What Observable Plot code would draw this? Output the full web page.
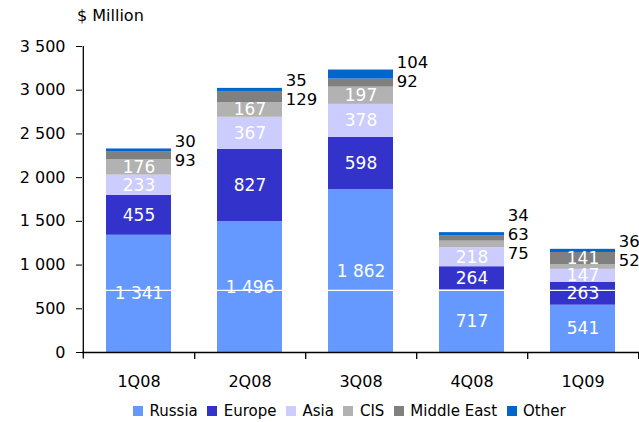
<!DOCTYPE html>
<html><head><meta charset="utf-8">
<script src="https://cdn.jsdelivr.net/npm/d3@7"></script>
<script src="https://cdn.jsdelivr.net/npm/@observablehq/plot@0.6"></script>
<style>
body{margin:0;background:#fff;font-family:"DejaVu Sans",sans-serif;color:#000;}
#title{height:28px;box-sizing:border-box;padding:7px 0 0 77px;font-size:16px;line-height:18px;}
#chart{height:370px;}
#legend{display:flex;align-items:center;padding-left:133px;margin-top:3px;font-size:15px;line-height:20px;}
.item{display:flex;align-items:center;margin-right:9.5px;}
.sw{width:10px;height:10px;margin-right:6.5px;}
</style></head><body>
<div id="title">$ Million</div>
<div id="chart"></div>
<div id="legend"></div>
<script>
const quarters = ["1Q08","2Q08","3Q08","4Q08","1Q09"];
const regions = ["Russia","Europe","Asia","CIS","Middle East","Other"];
const russia = [1341,1496,1862,717,541];
const europe = [455,827,598,264,263];
const asia = [233,367,378,218,147];
const cis = [176,167,197,75,52];
const middleEast = [93,129,92,63,141];
const other = [30,35,104,34,36];
const colors = ["#6699FF","#3333CC","#CCCCFF","#B2B2B2","#808080","#0066CC"];
const yTicks = [0,500,1000,1500,2000,2500,3000,3500];
const gridValue = 710;

const series = [russia, europe, asia, cis, middleEast, other];
const fmt = d => d3.format(",")(d).replace(/,/g, " ");

// stacked rows
const rows = [];
const totals = [];
quarters.forEach((q, qi) => {
  let cum = 0;
  regions.forEach((r, ri) => {
    const v = series[ri][qi];
    rows.push({quarter: q, region: r, value: v, y1: cum, y2: cum + v, mid: cum + v / 2,
               outside: v < 135 || r === "Other"});
    cum += v;
  });
  totals.push({quarter: q, total: cum});
});
const inside = rows.filter(d => !d.outside);
const outsideLabels = quarters.map((q, qi) => ({
  quarter: q,
  total: totals[qi].total,
  text: rows.filter(d => d.quarter === q && d.outside).reverse().map(d => fmt(d.value)).join("\n")
}));

const W = 639, H = 370, mL = 82, mR = 0, mT = 18, mB = 46;
const pInner = 0.41;
const step = (W - mL - mR) / quarters.length;
const bw = step * (1 - pInner);

const chart = Plot.plot({
  width: W, height: H,
  marginLeft: mL, marginRight: mR, marginTop: mT, marginBottom: mB,
  style: {fontFamily: "'DejaVu Sans', sans-serif", fontSize: "16px", background: "white", color: "black", overflow: "visible"},
  x: {domain: quarters, paddingInner: pInner, paddingOuter: pInner / 2, label: null},
  y: {domain: [0, 3500], label: null},
  color: {domain: regions, range: colors},
  marks: [
    Plot.barY(rows, {x: "quarter", y1: "y1", y2: "y2", fill: "region"}),
    Plot.ruleY([gridValue], {stroke: "white", strokeWidth: 1.3}),
    Plot.text(inside, {x: "quarter", y: "mid", text: d => fmt(d.value), fill: "white", fontSize: 17}),
    Plot.text(outsideLabels, {x: "quarter", y: "total", text: "text", textAnchor: "start",
      lineAnchor: "middle", lineHeight: 1.15, dx: bw / 2 + 3, dy: 1, fill: "black", fontSize: 16.5}),
    Plot.ruleY([0], {stroke: "black", strokeWidth: 1.3}),
    Plot.ruleX([quarters[0]], {dx: -step / 2, y1: -75, y2: 3500, stroke: "black", strokeWidth: 1.3}),
    Plot.ruleX(quarters, {dx: step / 2, y1: 0, y2: -80, stroke: "black", strokeWidth: 1.3}),
    Plot.axisY({ticks: yTicks, tickFormat: fmt, tickSize: 6, tickPadding: 11, fontSize: 16, label: null}),
    Plot.axisX({tickSize: 0, tickPadding: 23, fontSize: 16, label: null})
  ]
});
document.getElementById("chart").appendChild(chart);

const legend = document.getElementById("legend");
regions.forEach((r, i) => {
  const item = document.createElement("div");
  item.className = "item";
  const sw = document.createElement("span");
  sw.className = "sw";
  sw.style.background = colors[i];
  const t = document.createElement("span");
  t.textContent = r;
  item.appendChild(sw); item.appendChild(t);
  legend.appendChild(item);
});
</script>
</body></html>
